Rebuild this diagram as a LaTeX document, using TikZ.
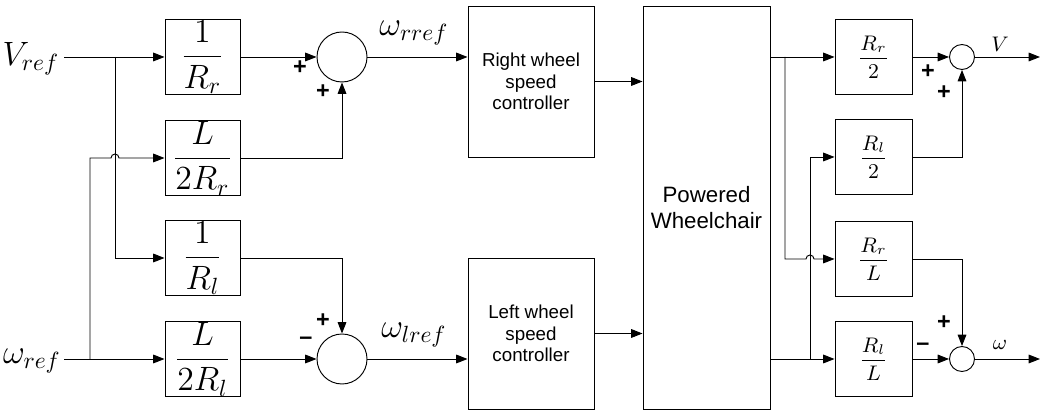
\documentclass[tikz,border=0pt]{standalone}
\usepackage{amsmath}
\usepackage{fontspec}
\setsansfont{Liberation Sans}
\usetikzlibrary{positioning, arrows.meta, calc}

\newcommand{\gainL}[2]{\fontsize{14}{16}\selectfont$\dfrac{#1}{#2}$}
\newcommand{\gainR}[2]{\fontsize{9}{11}\selectfont$\dfrac{#1}{#2}$}

\tikzset{
  blk/.style={draw, minimum width=11.25mm, minimum height=11.25mm, inner sep=0pt},
  ctrl/.style={draw, minimum width=18.9mm, minimum height=22.65mm, align=center,
    font=\sffamily\fontsize{8}{9.2}\selectfont},
  sumbig/.style={draw, circle, minimum size=7.5mm, inner sep=0pt},
  sumsmall/.style={draw, circle, minimum size=3.75mm, inner sep=0pt},
  sgn/.style={font=\sffamily\bfseries\fontsize{10}{12}\selectfont, inner sep=0pt},
  sig/.style={font=\fontsize{14}{16}\selectfont, inner sep=1pt},
}

\begin{document}
\begin{tikzpicture}[x=0.15mm, y=-0.15mm, line width=0.4pt, >={Triangle[length=1.7mm, width=1.3mm]}]
    \useasboundingbox (0,0) rectangle (1043,412);

    % Inputs
    \node[sig] (vref) at (31,59) {$V_{ref}$};
    \node[sig] (wref) at (32,361) {$\omega_{ref}$};
    \coordinate (vin) at (64,57);
    \coordinate (jv) at (115,57);
    \coordinate (win) at (64,359);
    \coordinate (jw) at (90,359);

    % Gain blocks on the left
    \foreach \nm/\y/\num/\den in {b1/57/1/R_r, b2/158/L/2R_r, b3/258/1/R_l, b4/359/L/2R_l} {
        \node[blk] (\nm) at (202.5,\y) {\gainL{\num}{\den}};
    }

    % Summing junctions
    \node[sumbig] (s1) at (342,57) {};
    \node[sumbig] (s2) at (342,359) {};

    % Controllers and the chair
    \node[ctrl] (rc) at (531,81.5) {Right wheel\\speed\\controller};
    \node[ctrl] (lc) at (531,333.5) {Left wheel\\speed\\controller};
    \node[draw, minimum width=19.05mm, minimum height=60.45mm, align=center,
          font=\sffamily\fontsize{9.5}{11}\selectfont] (chair) at (706.5,207.5) {Powered\\Wheelchair};

    \node[sig] (wr) at (414,33) {$\omega_{rref}$};
    \node[sig] (wl) at (414,335) {$\omega_{lref}$};

    % Gain blocks on the right
    \foreach \nm/\y/\num/\den in {c1/57/R_r/2, c2/157/R_l/2, c3/259/R_r/L, c4/359/R_l/L} {
        \node[blk, minimum width=11.55mm] (\nm) at (873.5,\y) {\gainR{\num}{\den}};
    }
    \node[sumsmall] (s3) at (962,57) {};
    \node[sumsmall] (s4) at (962,359) {};
    \coordinate (jr1) at (785,57);
    \coordinate (jr2) at (810,359);
    \coordinate (ov) at (1040,57);
    \coordinate (ow) at (1040,359);
    \node[font=\fontsize{9}{11}\selectfont] (lv) at (1000,44) {$V$};
    \node[font=\fontsize{9}{11}\selectfont] (lw) at (1000,345) {$\omega$};

    % Signs
    \foreach \x/\y/\s in {300/68/+, 323/92/+, 323/321/+, 306/341/--, 928/72/+, 944/93/+, 944/323/+, 923/347/--} {
        \node[sgn] (sg-\x-\y) at (\x,\y) {\s};
    }

    % Left wiring
    \draw[->] (vin) -- (b1.west);
    \draw[->] (jv) |- (b3.west);
    \draw[->] (win) -- (b4.west);
    \draw[->] (jw) -- (jw|-b2) -- ($(jv|-b2)+(-0.6mm,0)$) arc[start angle=180, end angle=0, radius=0.6mm] -- (b2.west);
    \draw[->] (b1) -- (s1);
    \draw[->] (b2) -| (s1);
    \draw[->] (b3) -| (s2);
    \draw[->] (b4) -- (s2);
    \draw[->] (s1.east) -- (s1.east-|rc.west);
    \draw[->] (s2.east) -- (s2.east-|lc.west);
    \draw[->] (rc.east) -- (rc.east-|chair.west);
    \draw[->] (lc.east) -- (lc.east-|chair.west);

    % Right wiring
    \draw[->] (chair.east|-c1) -- (c1.west);
    \draw[->] (chair.east|-c4) -- (c4.west);
    \draw[->] (jr1) -- (jr1|-c3) -- ($(jr2|-c3)+(-0.6mm,0)$) arc[start angle=180, end angle=0, radius=0.6mm] -- (c3.west);
    \draw[->] (jr2) |- (c2.west);
    \draw[->] (c1) -- (s3);
    \draw[->] (c2) -| (s3);
    \draw[->] (c3) -| (s4);
    \draw[->] (c4) -- (s4);
    \draw[->] (s3) -- (ov);
    \draw[->] (s4) -- (ow);
\end{tikzpicture}
\end{document}
